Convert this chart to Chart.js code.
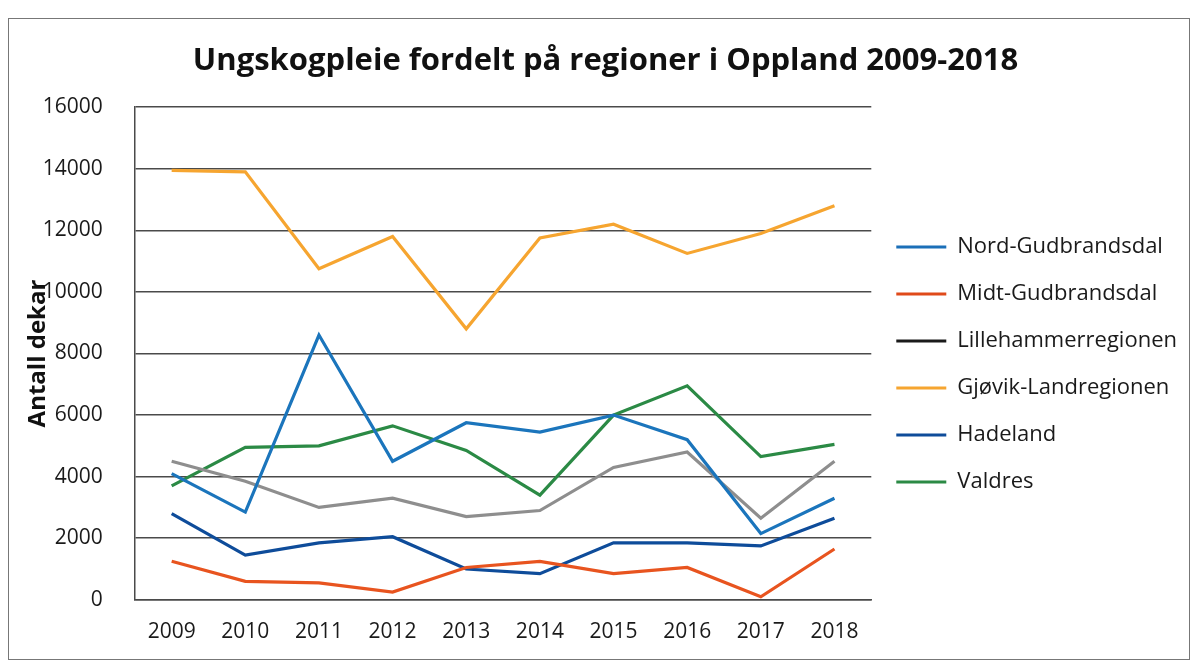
<!DOCTYPE html>
<html>
<head>
<meta charset="utf-8">
<script src="https://cdn.jsdelivr.net/npm/chart.js@4/dist/chart.umd.min.js"></script>
<style>
    html, body { margin: 0; padding: 0; background: #fff; }
    #wrap { position: relative; width: 1201px; height: 665px; }
    #frame { position: absolute; left: 8px; top: 18px; width: 1180px; height: 640px; border: 1px solid #777; pointer-events: none; }
</style>
</head>
<body>
<div id="wrap">
    <canvas id="lineChart" width="1201" height="665"></canvas>
    <div id="frame"></div>
</div>
<script>
const years = ['2009', '2010', '2011', '2012', '2013', '2014', '2015', '2016', '2017', '2018'];
const yTicks = [0, 2000, 4000, 6000, 8000, 10000, 12000, 14000, 16000];

const nordGudbrandsdal = [4100, 2850, 8600, 4500, 5750, 5450, 6000, 5200, 2150, 3300];
const midtGudbrandsdal = [1250, 600, 550, 250, 1050, 1250, 850, 1050, 100, 1650];
const lillehammerregionen = [4500, 3850, 3000, 3300, 2700, 2900, 4300, 4800, 2650, 4500];
const gjovikLandregionen = [13950, 13900, 10750, 11800, 8800, 11750, 12200, 11250, 11900, 12800];
const hadeland = [2800, 1450, 1850, 2050, 1000, 850, 1850, 1850, 1750, 2650];
const valdres = [3700, 4950, 5000, 5650, 4850, 3400, 6000, 6950, 4650, 5050];

const seriesNames = ['Nord-Gudbrandsdal', 'Midt-Gudbrandsdal', 'Lillehammerregionen', 'Gjøvik-Landregionen', 'Hadeland', 'Valdres'];
const seriesData = [nordGudbrandsdal, midtGudbrandsdal, lillehammerregionen, gjovikLandregionen, hadeland, valdres];

// line colour in the plot / colour of the legend key (Lillehammer key is black in the original)
const lineColors = ['#1b75bc', '#e8541f', '#8e8e8e', '#f6a530', '#0e4c9a', '#2b8a45'];
const keyColors = ['#1b6fb8', '#e04a1a', '#1a1a1a', '#f6a530', '#0e4c9a', '#2b8a45'];

document.addEventListener('DOMContentLoaded', function () {
    Chart.defaults.font.family = "'Open Sans', 'Noto Sans', sans-serif";
    Chart.defaults.color = '#1a1a1a';

    const datasets = seriesNames.map((name, i) => ({
        label: name,
        data: seriesData[i],
        borderColor: lineColors[i],
        backgroundColor: lineColors[i],
        borderWidth: 3.2,
        pointRadius: 0,
        tension: 0,
        fill: false
    }));

    new Chart(document.getElementById('lineChart'), {
        type: 'line',
        data: {
            labels: years,
            datasets: datasets
        },
        options: {
            responsive: false,
            animation: false,
            layout: {
                padding: { left: 24, right: 14, bottom: 0 }
            },
            plugins: {
                title: {
                    display: true,
                    text: 'Ungskogpleie fordelt på regioner i Oppland 2009-2018',
                    color: '#111',
                    font: { size: 31, weight: 'bold' },
                    padding: { top: 43, bottom: 27 }
                },
                legend: {
                    position: 'right',
                    maxWidth: 340,
                    title: {
                        display: true,
                        text: ' ',
                        font: { size: 10 },
                        padding: { top: 26, bottom: 26 }
                    },
                    labels: {
                        boxWidth: 50,
                        boxHeight: 3,
                        padding: 25,
                        color: '#1a1a1a',
                        font: { size: 22 },
                        generateLabels: function (chart) {
                            return chart.data.datasets.map((ds, i) => ({
                                text: ds.label,
                                fillStyle: keyColors[i],
                                strokeStyle: keyColors[i],
                                lineWidth: 0,
                                hidden: false,
                                datasetIndex: i
                            }));
                        }
                    }
                },
                tooltip: { enabled: false }
            },
            scales: {
                x: {
                    offset: true,
                    grid: { display: false, drawTicks: false },
                    border: { display: true, color: '#4a4a4a', width: 1.5 },
                    ticks: { font: { size: 21 }, padding: 20, color: '#1a1a1a' }
                },
                y: {
                    min: 0,
                    max: 16000,
                    afterBuildTicks: function (axis) {
                        axis.ticks = yTicks.map(v => ({ value: v }));
                    },
                    grid: { color: '#4a4a4a', lineWidth: 1.5, drawTicks: false },
                    border: { display: true, color: '#4a4a4a', width: 1.5 },
                    ticks: {
                        font: { size: 21 },
                        padding: 32,
                        color: '#1a1a1a',
                        callback: function (value) { return String(value); }
                    },
                    title: {
                        display: true,
                        text: 'Antall dekar',
                        color: '#111',
                        font: { size: 24, weight: 'bold' },
                        padding: { top: 0, bottom: -42 }
                    }
                }
            }
        }
    });
});
</script>
</body>
</html>
